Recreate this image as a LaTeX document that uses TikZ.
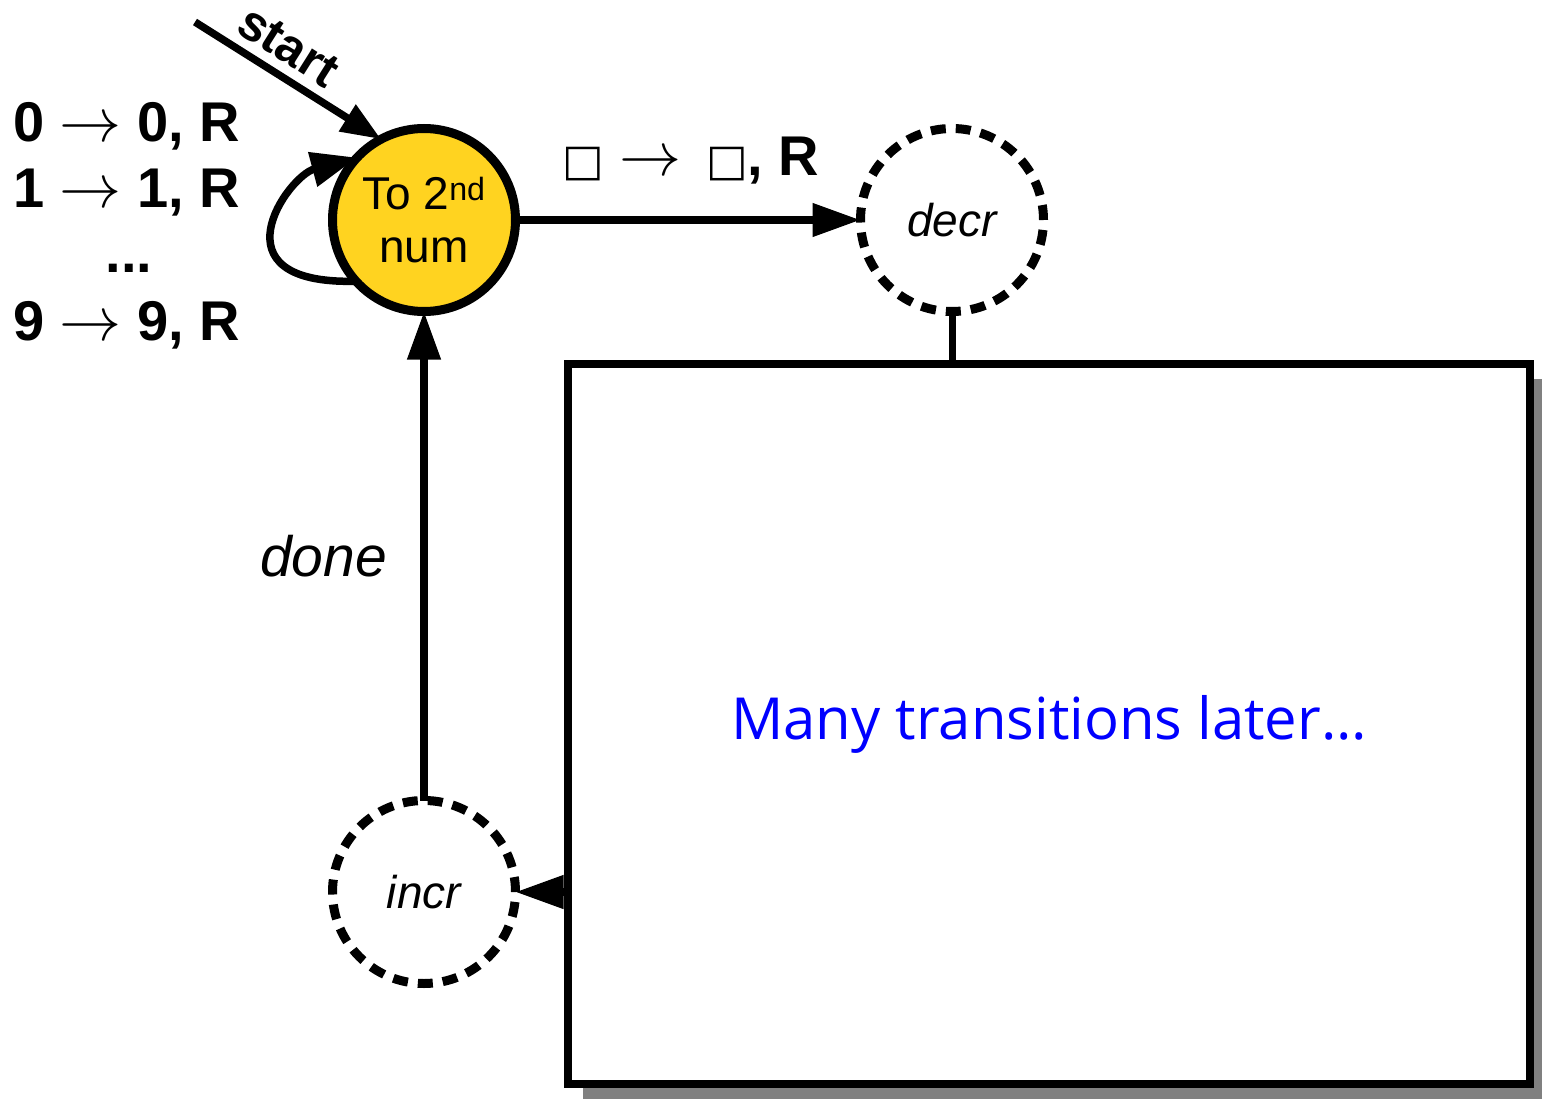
\documentclass[tikz,border=0pt]{standalone}
\usepackage{fontspec}
\setmainfont{Liberation Sans}
\newfontfamily\symfont{DejaVu Sans}
\newfontfamily\handfont{Open Sans}
\usetikzlibrary{arrows.meta,shadows}
\definecolor{stateyellow}{HTML}{FFD320}
\definecolor{shadowgray}{HTML}{808080}
\definecolor{noteblue}{HTML}{0000FF}
\newcommand{\bigarr}{{\fontsize{10}{12}\selectfont\scalebox{6.2}{$\rightarrow$}}}
\begin{document}
\begin{tikzpicture}[x=1pt,y=-1pt,
  solidstate/.style={circle, draw=black, line width=9pt, fill=stateyellow,
    minimum size=183pt, inner sep=0pt, outer sep=0pt,
    font=\fontsize{46}{53}\selectfont, align=center},
  dashstate/.style={circle, draw=black, line width=9pt, dash pattern=on 15pt off 10pt,
    minimum size=183pt, inner sep=0pt, outer sep=0pt,
    font=\fontsize{46}{53}\selectfont\itshape},
  conn/.style={line width=7.5pt, -{Triangle[length=48pt,width=32pt]}},
  plainconn/.style={line width=7pt},
  lbl/.style={font=\fontsize{56}{60}\selectfont\bfseries, anchor=base west, inner sep=0pt},
  notebox/.style={draw=black, line width=8pt, fill=white, inner sep=0pt, outer sep=0pt,
    minimum width=962pt, minimum height=720pt,
    drop shadow={shadow xshift=15pt, shadow yshift=-15pt, fill=shadowgray, opacity=1},
    text=noteblue, font=\handfont\fontsize{58}{64}\selectfont},
]
\useasboundingbox (0,0) rectangle (1542,1102);

% states
\node[solidstate] (a) at (424,220) {To 2\textsuperscript{nd}\\num};
\node[dashstate] (d) at (952,220) {decr};
\node[dashstate] (i) at (424,892) {incr};

% box
\node[notebox] (box) at (1049,724) {\raisebox{-11pt}{Many transitions later\ldots}};

% start arrow
\coordinate (s0) at (195,22);
\draw[conn, -{Triangle[length=40pt,width=30pt]}] (s0) -- node[pos=0.42, sloped, above=9pt, inner sep=0pt, font=\fontsize{50}{50}\selectfont\bfseries] (startlbl) {start} (a.118);

% self loop
\draw[conn, -{Triangle[length=46pt,width=34pt]}] (a.222) .. controls (210,285) and (288,176) .. (a.137);

% loop labels
\node[lbl] (l0) at (13,142) {0 \bigarr\ 0, R};
\node[lbl] (l1) at (13,208) {1 \bigarr\ 1, R};
\node[lbl, anchor=base] (ldots) at (129,272) {...};
\node[lbl] (l9) at (13,340) {9 \bigarr\ 9, R};

% to decr
\draw[conn] (a) -- (d);
\node[lbl] (blank) at (562,176) {{\mdseries\symfont\fontsize{44}{44}\selectfont □} \bigarr\ \,{\mdseries\symfont\fontsize{44}{44}\selectfont □}, R};

% decr to box
\draw[plainconn] (d.south) -- (d.south |- box.north);

% box to incr
\draw[conn] (box.west |- i) -- (i);

% incr to start
\draw[conn] (i) -- node[midway, left=30pt, font=\fontsize{57}{57}\selectfont\itshape] (donelbl) {done} (a);
\end{tikzpicture}
\end{document}
